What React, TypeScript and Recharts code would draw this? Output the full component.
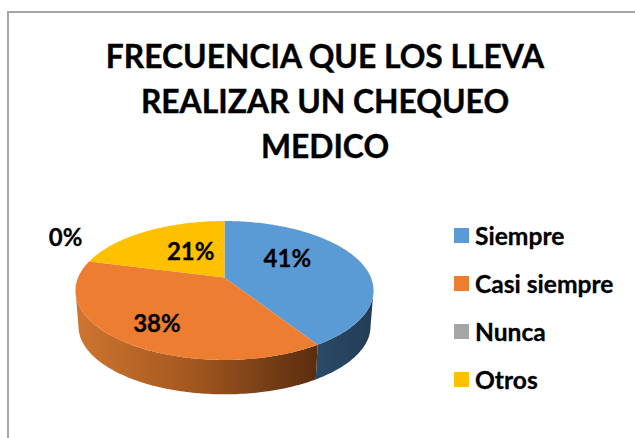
import { PieChart, Pie, Legend } from "recharts";

const categories = ["Siempre", "Casi siempre", "Nunca", "Otros"];
const values = [41, 38, 0, 21];
const colors = ["#5B9BD5", "#ED7D31", "#A5A5A5", "#FFC000"];
const titleLines = ["FRECUENCIA QUE LOS LLEVA", "REALIZAR UN CHEQUEO", "MEDICO"];

const FONT = "Lato, Carlito, sans-serif";
const data = categories.map((name, i) => ({ name, value: values[i], fill: colors[i] }));

// fake 3D: the flat pie is pushed through a perspective tilt
const TILT = 0.458;
const PERSPECTIVE = 0.187;
const DEPTH = 36;
const BOTTOM_SCALE = 0.98;
const WALL_FROM = 100.8;
const WALL_TO = 259.2;

// clockwise degrees from 12 o'clock -> screen point
function project(cx: number, cy: number, r: number, theta: number, f = 1) {
  const rad = (theta * Math.PI) / 180;
  const w = 1 + PERSPECTIVE * f * Math.cos(rad);
  return {
    x: cx + (r * f * Math.sin(rad)) / w,
    y: cy - (r * TILT * f * Math.cos(rad)) / w,
  };
}

function arcPoints(cx: number, cy: number, r: number, from: number, to: number) {
  const steps = Math.max(2, Math.ceil(Math.abs(to - from)));
  const pts = [];
  for (let i = 0; i <= steps; i++) pts.push(project(cx, cy, r, from + ((to - from) * i) / steps));
  return pts;
}

function toPath(pts: { x: number; y: number }[]) {
  return pts.map((p, i) => `${i ? "L" : "M"}${p.x.toFixed(2)} ${p.y.toFixed(2)}`).join(" ");
}

function Slice3D(props: any) {
  const { cx, cy, outerRadius, startAngle, endAngle, fill, index } = props;
  const from = 90 - startAngle;
  const to = 90 - endAngle;
  if (Math.abs(to - from) < 0.01) return <g />;

  const top = arcPoints(cx, cy, outerRadius, from, to);
  const a = Math.max(from, WALL_FROM);
  const b = Math.min(to, WALL_TO);
  let wall = null;
  if (b > a) {
    const upper = arcPoints(cx, cy, outerRadius, a, b);
    const lower = arcPoints(cx, cy + DEPTH, outerRadius * BOTTOM_SCALE, a, b).reverse();
    wall = <path d={`${toPath([...upper, ...lower])} Z`} fill={`url(#wall-${index})`} />;
  }
  return (
    <g>
      {wall}
      <path d={`M${cx} ${cy} ${toPath(top).replace("M", "L")} Z`} fill={fill} />
    </g>
  );
}

// Excel placed these by hand-ish, so they don't sit on one ring
const labelNudge = [
  [1, -12],
  [-26, 19],
  [-17, -24],
  [4, -5],
];

function SliceLabel(props: any) {
  const { cx, cy, outerRadius, midAngle, index } = props;
  const p = project(cx, cy, outerRadius, 90 - midAngle, index === 2 ? 1.05 : 0.45);
  const [dx, dy] = labelNudge[index];
  return (
    <text
      x={p.x + dx}
      y={p.y + dy}
      textAnchor="middle"
      dominantBaseline="central"
      fontFamily={FONT}
      fontWeight={700}
      fontSize={24}
      stroke="#000"
      strokeWidth={0.3}
      fill="#000"
    >
      {values[index]}%
    </text>
  );
}

function LegendList({ payload }: any) {
  return (
    <div style={{ fontFamily: FONT, fontWeight: 700, fontSize: 24.6, color: "#000", WebkitTextStroke: "0.3px #000" }}>
      {(payload || []).map((item: any) => (
        <div key={item.value} style={{ display: "flex", alignItems: "center", height: 48 }}>
          <span style={{ width: 15, height: 15, background: item.color, marginRight: 6 }} />
          {item.value}
        </div>
      ))}
    </div>
  );
}

export default function App() {
  return (
    <div style={{ position: "absolute", left: 0, top: 0, width: 635, height: 438, background: "#fff", overflow: "hidden" }}>
      <div style={{ position: "absolute", left: 7, top: 11, width: 640, height: 440, borderLeft: "2px solid #A6A6A6", borderTop: "2px solid #A6A6A6" }} />
      <div
        style={{
          position: "absolute",
          left: 15,
          width: 620,
          top: 34,
          textAlign: "center",
          fontFamily: FONT,
          fontWeight: 700,
          fontSize: 31.8,
          lineHeight: "45px",
          color: "#000",
          WebkitTextStroke: "0.4px #000",
        }}
      >
        {titleLines.map((t) => (
          <div key={t}>{t}</div>
        ))}
      </div>
      <PieChart width={635} height={438} margin={{ top: 0, right: 0, bottom: 0, left: 0 }} style={{ position: "absolute", left: 0, top: 0 }}>
        <defs>
          <linearGradient id="wall-0" x1="0" y1="0" x2="1" y2="0">
            <stop offset="0" stopColor="#2A4A68" />
            <stop offset="1" stopColor="#223D56" />
          </linearGradient>
          <linearGradient id="wall-1" x1="0" y1="0" x2="1" y2="0">
            <stop offset="0" stopColor="#CF7530" />
            <stop offset="0.5" stopColor="#A0561F" />
            <stop offset="1" stopColor="#5A2D0F" />
          </linearGradient>
          <linearGradient id="wall-2" x1="0" y1="0" x2="1" y2="0">
            <stop offset="0" stopColor="#636363" />
          </linearGradient>
          <linearGradient id="wall-3" x1="0" y1="0" x2="1" y2="0">
            <stop offset="0" stopColor="#997300" />
          </linearGradient>
        </defs>
        <Pie
          data={data}
          dataKey="value"
          nameKey="name"
          cx={224.5}
          cy={277.5}
          outerRadius={146.4}
          startAngle={90}
          endAngle={-270}
          stroke="none"
          shape={Slice3D}
          label={SliceLabel}
          labelLine={false}
          isAnimationActive={false}
        />
        <Legend
          content={LegendList}
          layout="vertical"
          itemSorter={null}
          wrapperStyle={{ position: "absolute", left: 454, top: 211, width: 181, bottom: "auto", right: "auto" }}
        />
      </PieChart>
    </div>
  );
}
